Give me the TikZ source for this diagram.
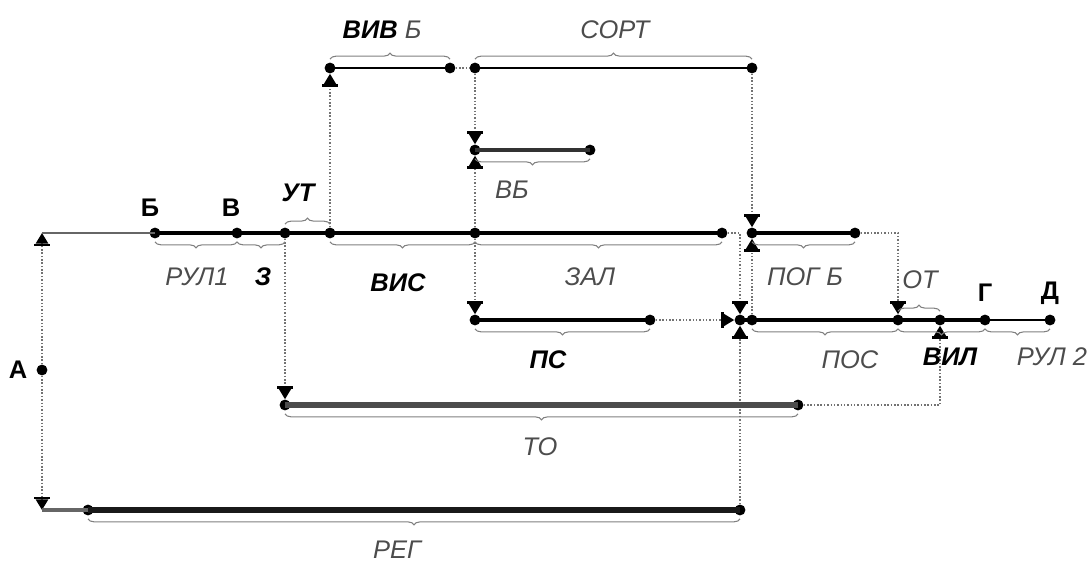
\documentclass[tikz,border=0pt]{standalone}
\usepackage{fontspec}
\setmainfont{Liberation Sans}
\usetikzlibrary{arrows.meta,decorations.pathreplacing}

\newcommand\lblsize{\fontsize{14.5}{17}\selectfont}

\tikzset{
  pt/.style={circle,fill=black,inner sep=0pt,minimum size=6.2pt},
  lbl/.style={font=\lblsize\itshape,text=black!70},
  blbl/.style={font=\lblsize\bfseries\itshape,text=black},
  nm/.style={font=\lblsize\bfseries,text=black},
  conn/.style={draw=black!55,line width=0.9pt,densely dotted},
  arr/.style={-{Bar[width=9pt,line width=1.6pt,color=black]
    Triangle[width=7pt,length=6pt,color=black,fill=black]}},
  brc/.style={draw=black!50,line width=0.6pt,decorate,
    decoration={brace,amplitude=3.5pt,raise=5pt}},
  brcd/.style={brc,decoration={mirror}},
}

\begin{document}
\begin{tikzpicture}[x=0.02cm,y=-0.02cm]

  \useasboundingbox (0,0) rectangle (1089,565);

  % --- points on the main line ---
  \coordinate (cL) at (42,233);
  \node[pt] (pB)    at (155,233) {};
  \node[pt] (pV)    at (237,233) {};
  \node[pt] (pZ)    at (285,233) {};
  \node[pt] (pUT)   at (330,233) {};
  \node[pt] (pVIS)  at (475,233) {};
  \node[pt] (pZAL)  at (722,233) {};
  \node[pt] (pPOGa) at (752,233) {};
  \node[pt] (pPOGb) at (855,233) {};

  % --- upper branches ---
  \node[pt] (pVIVa) at (330,68) {};
  \node[pt] (pVIVb) at (450,68) {};
  \node[pt] (pSORa) at (475,68) {};
  \node[pt] (pSORb) at (752,68) {};
  \node[pt] (pVBa)  at (475,150) {};
  \node[pt] (pVBb)  at (590,150) {};

  % --- second line ---
  \node[pt] (pPSa) at (475,320) {};
  \node[pt] (pPSb) at (650,320) {};
  \node[pt] (pX)   at (740,320) {};
  \node[pt] (pPOSa) at (752,320) {};
  \node[pt] (pOT)  at (898,320) {};
  \node[pt] (pVIL) at (940,320) {};
  \node[pt] (pG)   at (985,320) {};
  \node[pt] (pD)   at (1050,320) {};

  % --- lower lines ---
  \node[pt] (pTOa) at (285,405) {};
  \node[pt] (pTOb) at (798,405) {};
  \coordinate (cR) at (42,510);
  \node[pt] (pREGa) at (88,510) {};
  \node[pt] (pREGb) at (740,510) {};
  \node[pt] (pA) at (42,370) {};

  % --- connectors ---
  \draw[conn,arr] (pA) -- (cL);
  \draw[conn,arr] (pA) -- (cR);
  \draw[conn,arr] (pZ) -- (pTOa);
  \draw[conn,arr] (pUT) -- (pVIVa);
  \draw[conn] (pVIVb) -- (pSORa);
  \draw[conn,arr] (pSORa) -- (pVBa);
  \draw[conn,arr] (pVIS) -- (pVBa);
  \draw[conn,arr] (pVIS) -- (pPSa);
  \draw[conn,arr] (pPSb) -- (pX);
  \draw[conn,arr] (pZAL) -| (pX);
  \draw[conn,arr] (pREGb) -- (pX);
  \draw[conn,arr] (pSORb) -- (pPOGa);
  \draw[conn,arr] (pPOSa) -- (pPOGa);
  \draw[conn,arr] (pPOGb) -| (pOT);
  \draw[conn,arr] (pTOb) -| (pVIL);

  % --- work lines ---
  \draw[black!60,line width=1.6pt] (cL) -- (pB.center);
  \draw[line width=2pt] (pB.center) -- (pZAL.center);
  \draw[line width=1pt] (pVIVa.center) -- (pVIVb.center);
  \draw[line width=1pt] (pSORa.center) -- (pSORb.center);
  \draw[black!80,line width=1.8pt] (pVBa.center) -- (pVBb.center);
  \draw[line width=2pt] (pPSa.center) -- (pPSb.center);
  \draw[line width=2pt] (pPOGa.center) -- (pPOGb.center);
  \draw[line width=2pt] (pX.center) -- (pG.center);
  \draw[line width=1.4pt] (pG.center) -- (pD.center);
  \draw[black!70,line width=3.5pt] (pTOa.center) -- (pTOb.center);
  \draw[black!60,line width=2pt] (cR) -- (pREGa.center);
  \draw[black!90,line width=3pt] (pREGa.center) -- (pREGb.center);

  % --- braces ---
  \draw[brc] (pZ.center) -- (pUT.center);
  \draw[brc] (pVIVa.center) -- (pVIVb.center);
  \draw[brc] (pSORa.center) -- (pSORb.center);
  \draw[brc] (pOT.center) -- (pVIL.center);
  \draw[brcd] (pB.center) -- (pV.center);
  \draw[brcd] (pV.center) -- (pZ.center);
  \draw[brcd] (pUT.center) -- (pVIS.center);
  \draw[brcd] (pVIS.center) -- (pZAL.center);
  \draw[brcd] (pVBa.center) -- (pVBb.center);
  \draw[brcd] (pPSa.center) -- (pPSb.center);
  \draw[brcd] (pPOGa.center) -- (pPOGb.center);
  \draw[brcd] (pPOSa.center) -- (pOT.center);
  \draw[brcd] (pOT.center) -- (pG.center);
  \draw[brcd] (pG.center) -- (pD.center);
  \draw[brcd] (pTOa.center) -- (pTOb.center);
  \draw[brcd] (pREGa.center) -- (pREGb.center);

  % --- labels ---
  \node[nm] (tA) at (18,370) {А};
  \node[nm] (tB) at (150,208) {Б};
  \node[nm] (tV) at (231,208) {В};
  \node[nm] (tG) at (985,293) {Г};
  \node[nm] (tD) at (1050,293) {Д};
  \node[blbl] (tUT) at (298,193) {УТ};
  \node[lbl] (tVIV) at (382,30) {\textbf{\color{black}ВИВ} Б};
  \node[lbl] (tSORT) at (615,30) {СОРТ};
  \node[lbl] (tVB) at (512,190) {ВБ};
  \node[lbl] (tRUL1) at (197,277) {РУЛ1};
  \node[blbl] (tZ) at (263,277) {З};
  \node[blbl] (tVIS) at (398,283) {ВИС};
  \node[lbl] (tZAL) at (590,277) {ЗАЛ};
  \node[lbl] (tPOG) at (805,277) {ПОГ Б};
  \node[lbl] (tOT) at (920,280) {ОТ};
  \node[blbl] (tPS) at (548,360) {ПС};
  \node[lbl] (tPOS) at (850,360) {ПОС};
  \node[blbl] (tVIL) at (950,357) {ВИЛ};
  \node[lbl] (tRUL2) at (1052,357) {РУЛ 2};
  \node[lbl] (tTO) at (540,447) {ТО};
  \node[lbl] (tREG) at (397,550) {РЕГ};

\end{tikzpicture}
\end{document}
